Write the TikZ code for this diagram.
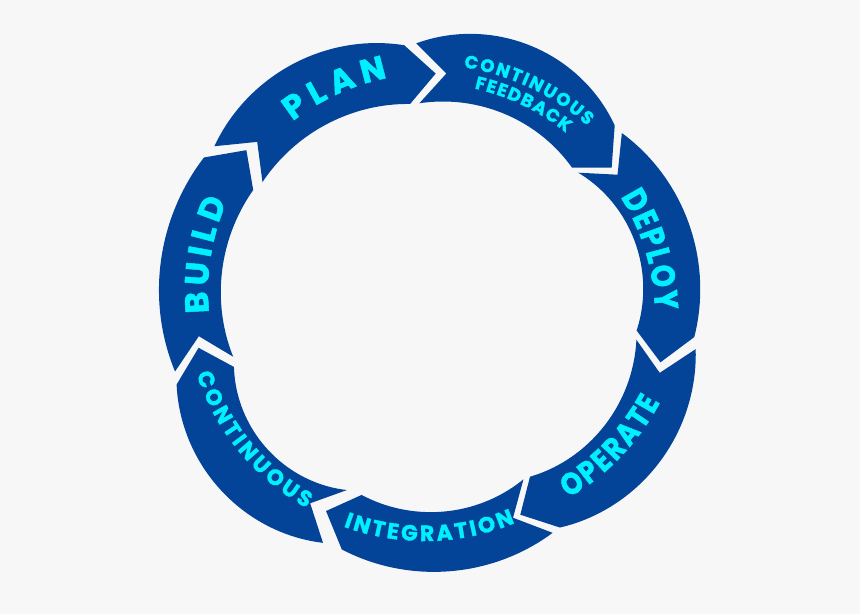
\documentclass[tikz,border=0pt]{standalone}
\usepackage{fontspec}
\newfontfamily\ringfont[BoldFeatures={FakeBold=1.5}]{Poppins}
\newfontfamily\ringfontn[FakeStretch=0.86,BoldFeatures={FakeBold=1.5}]{Poppins}
\usetikzlibrary{decorations.text}
\definecolor{ringblue}{RGB}{3,68,152}
\definecolor{txtcyan}{RGB}{0,240,255}
\definecolor{bgcol}{RGB}{247,247,248}
\newcommand\bigtxt{\ringfont\bfseries\fontsize{33pt}{33pt}\selectfont}
\newcommand\nartxt{\ringfontn\bfseries\fontsize{33pt}{33pt}\selectfont}
\newcommand\opetxt{\ringfontn\bfseries\fontsize{31pt}{31pt}\selectfont}
\newcommand\medtxt{\ringfont\bfseries\fontsize{22pt}{22pt}\selectfont}
\newcommand\smltxt{\ringfont\bfseries\fontsize{18pt}{18pt}\selectfont}
% segment: #1 start angle, #2 end angle (clockwise), #3-#5 inner radii (start,mid,end), #6-#8 outer radii
\newcommand\ringseg[8]{%
  \fill[ringblue]
    plot[domain=0:1,samples=41,variable=\x] ({430+qd(\x,#6,#7,#8)*cos((#1)+((#2)-(#1))*\x)},{307+qd(\x,#6,#7,#8)*sin((#1)+((#2)-(#1))*\x)})
    -- ({430+0.5*(#5+#8)*cos((#2)-7)},{307+0.5*(#5+#8)*sin((#2)-7)})
    -- plot[domain=1:0,samples=41,variable=\x] ({430+qd(\x,#3,#4,#5)*cos((#1)+((#2)-(#1))*\x)},{307+qd(\x,#3,#4,#5)*sin((#1)+((#2)-(#1))*\x)})
    -- ({430+0.5*(#3+#6)*cos((#1)-7)},{307+0.5*(#3+#6)*sin((#1)-7)}) -- cycle;}
% text along arc: #1 start angle, #2 end angle, #3 start radius, #4 end radius, #5 text
\newcommand\textarc[5]{%
  \path[decorate,decoration={text along path,text={#5},text color=txtcyan,text align={fit to path}}]
    plot[domain=0:1,samples=41,variable=\x] ({430+((#3)+((#4)-(#3))*\x)*cos((#1)+((#2)-(#1))*\x)},{307+((#3)+((#4)-(#3))*\x)*sin((#1)+((#2)-(#1))*\x)});}
\begin{document}
\begin{tikzpicture}[x=1pt,y=1pt,
  declare function={qd(\s,\p,\q,\w)=\p*(1-\s)*(1-2*\s)+4*\q*\s*(1-\s)+\w*\s*(2*\s-1);}]
\fill[bgcol] (0,0) rectangle (860,614);
\useasboundingbox (0,0) rectangle (860,614);
% ring segments (clockwise flow)
\ringseg{143.3}{95.6}{209}{210}{204}{269}{279}{263}   % plan
\ringseg{93}{44.5}{204}{207}{199}{264}{280}{259}      % continuous feedback
\ringseg{42.2}{-6.5}{200}{215}{208}{259}{272}{266}    % deploy
\ringseg{-9}{-59.5}{209}{211}{197}{269}{277}{256}     % operate
\ringseg{-61.5}{-110}{196}{205}{200}{257}{265}{258}   % integration
\ringseg{-114.4}{-163}{201}{216}{205}{259}{278}{265}  % continuous
\ringseg{-165.8}{-213.5}{203}{211}{212}{263}{273}{271}% build
% labels
\textarc{126.5}{100.5}{231}{233}{|\bigtxt|PLAN}
\textarc{82}{49}{242}{240}{|\smltxt|CONTINUOUS}
\textarc{78.5}{52}{223}{221}{|\smltxt|FEEDBACK}
\textarc{30}{-0.8}{220}{225}{|\nartxt|DEPLOY}
\textarc{-54}{-22.5}{236}{249}{|\opetxt|OPERATE}
\textarc{-111.5}{-68.5}{236}{232}{|\medtxt|INTEGRATION}
\textarc{196}{238.5}{243}{236}{|\medtxt|CONTINUOUS}
\textarc{181.5}{152.5}{221}{229}{|\bigtxt|BUILD}
\end{tikzpicture}
\end{document}
